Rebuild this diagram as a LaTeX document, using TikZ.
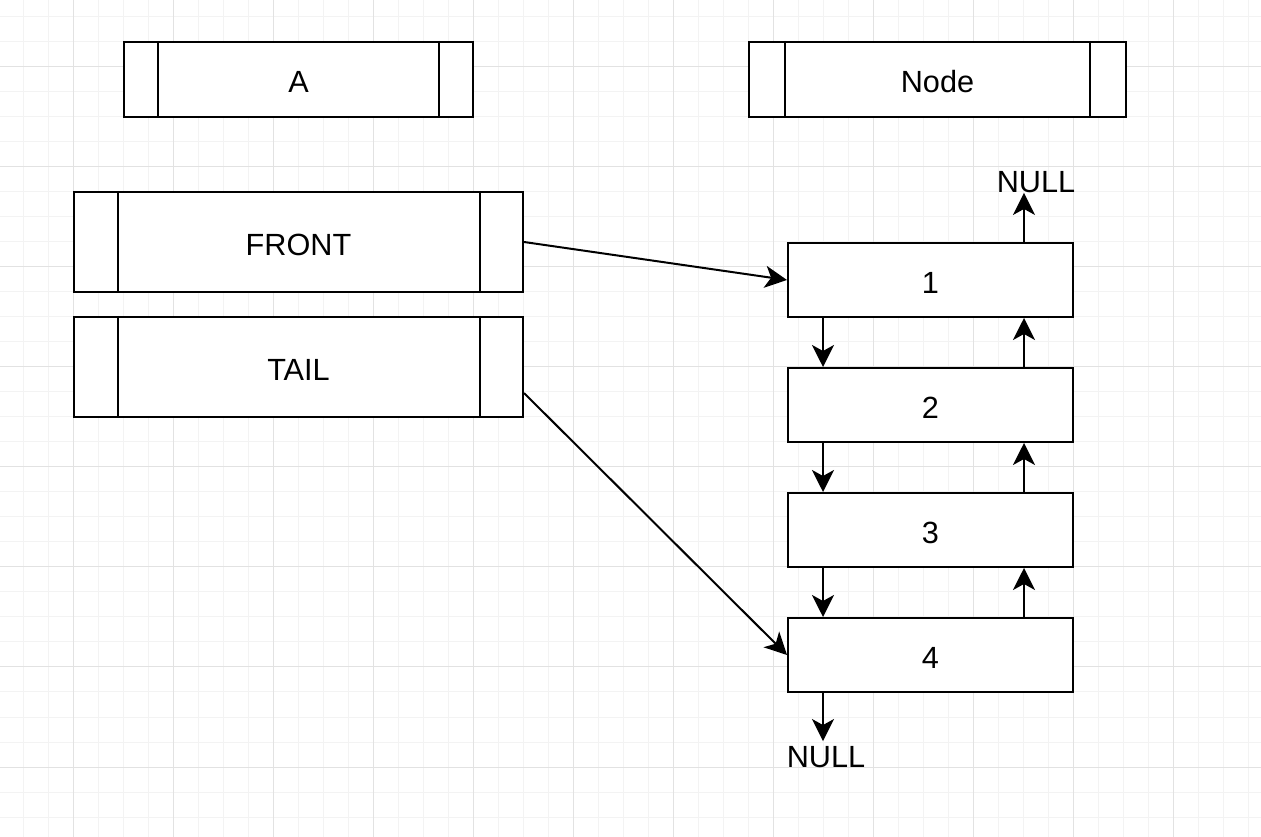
\documentclass[tikz,border=0pt]{standalone}
\usepackage{fontspec}
\setmainfont{Liberation Sans}
\usetikzlibrary{arrows.meta,calc}
\definecolor{gridminor}{RGB}{243,243,243}
\definecolor{gridmajor}{RGB}{226,226,226}
\tikzset{
  box/.style={draw=black, line width=1.5pt, fill=white, inner sep=0pt, text height=20pt, text depth=0pt, font=\fontsize{23}{27}\selectfont},
  lbl/.style={inner sep=0pt, font=\fontsize{23}{27}\selectfont},
  conn/.style={line width=1.5pt, -{Stealth[length=16.5pt,width=16.5pt,inset=4.5pt]}},
  inner/.style={line width=1.5pt}
}
\begin{document}
\begin{tikzpicture}[x=0.75pt,y=-0.75pt]
\useasboundingbox (0,0) rectangle (1261,837);
\fill[white] (0,0) rectangle (1261,837);
% grid
\foreach \x in {23,48,...,1261} \draw[gridminor, line width=0.75pt] (\x,0) -- (\x,837);
\foreach \y in {17,42,...,837} \draw[gridminor, line width=0.75pt] (0,\y) -- (1261,\y);
\foreach \x in {73,173,...,1261} \draw[gridmajor, line width=0.75pt] (\x,0) -- (\x,837);
\foreach \y in {67,167,...,837} \draw[gridmajor, line width=0.75pt] (0,\y) -- (1261,\y);

% process boxes
\node[box, minimum width=261.75pt, minimum height=56.25pt] (A) at (298.5,79.5) {A};
\draw[inner] ($(A.north west)+(35,0)$) -- ($(A.south west)+(35,0)$);
\draw[inner] ($(A.north east)+(-35,0)$) -- ($(A.south east)+(-35,0)$);

\node[box, minimum width=282.75pt, minimum height=56.25pt] (N) at (937.5,79.5) {Node};
\draw[inner] ($(N.north west)+(37,0)$) -- ($(N.south west)+(37,0)$);
\draw[inner] ($(N.north east)+(-37,0)$) -- ($(N.south east)+(-37,0)$);

\node[box, minimum width=336.75pt, minimum height=75pt] (F) at (298.5,242) {FRONT};
\draw[inner] ($(F.north west)+(45,0)$) -- ($(F.south west)+(45,0)$);
\draw[inner] ($(F.north east)+(-44,0)$) -- ($(F.south east)+(-44,0)$);

\node[box, minimum width=336.75pt, minimum height=75pt] (T) at (298.5,367) {TAIL};
\draw[inner] ($(T.north west)+(45,0)$) -- ($(T.south west)+(45,0)$);
\draw[inner] ($(T.north east)+(-44,0)$) -- ($(T.south east)+(-44,0)$);

% list nodes
\node[box, minimum width=213.75pt, minimum height=55.5pt] (n1) at (930.5,280) {1};
\node[box, minimum width=213.75pt, minimum height=55.5pt] (n2) at (930.5,405) {2};
\node[box, minimum width=213.75pt, minimum height=55.5pt] (n3) at (930.5,530) {3};
\node[box, minimum width=213.75pt, minimum height=55.5pt] (n4) at (930.5,655) {4};

\node[lbl] (nt) at (1036,182) {NULL};
\node[lbl] (nb) at (826,757) {NULL};

% connectors
\draw[conn] (F.east) -- (n1.west);
\draw[conn] ($(T.east)+(0,26)$) -- (n4.west);

\foreach \a/\b in {n1/n2,n2/n3,n3/n4}{
  \draw[conn] ($(\a.south west)+(36,0)$) -- ($(\b.north west)+(36,0)$);
  \draw[conn] ($(\b.north east)+(-50,0)$) -- ($(\a.south east)+(-50,0)$);
}
\coordinate (t1) at ($(n1.north east)+(-50,0)$);
\draw[conn] (t1) -- (t1 |- nt.south);
\coordinate (b4) at ($(n4.south west)+(36,0)$);
\draw[conn, shorten >=3.75pt] (b4) -- (b4 |- nb.north);
\end{tikzpicture}
\end{document}
